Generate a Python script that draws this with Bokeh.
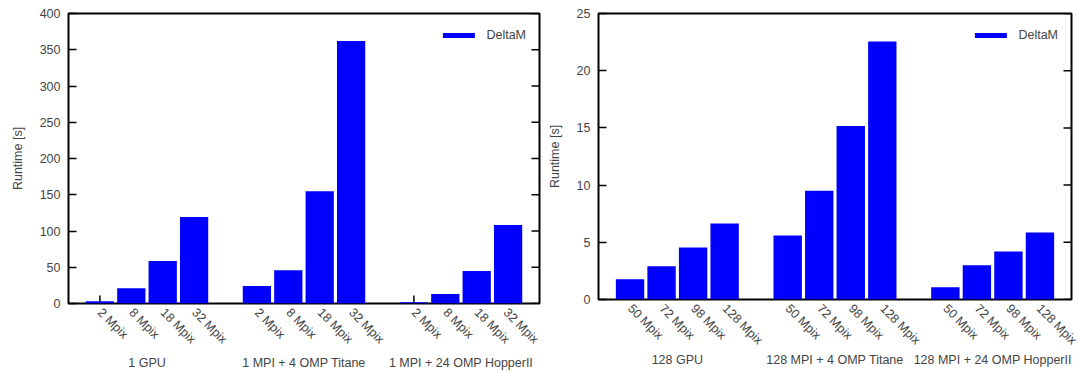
import math
from bokeh.plotting import figure
from bokeh.layouts import row
from bokeh.models import (Range1d, LinearAxis, FixedTicker, SingleIntervalTicker,
                          ColumnDataSource)
from bokeh.embed import file_html
from bokeh.resources import INLINE

# ---------------- data ----------------
configs_left = ["1 GPU", "1 MPI + 4 OMP Titane", "1 MPI + 24 OMP HopperII"]
sizes_left = ["2 Mpix", "8 Mpix", "18 Mpix", "32 Mpix"]
runtime_1gpu = [3.2, 21.2, 58.5, 119.4]
runtime_1titane = [24.0, 46.0, 155.0, 362.0]
runtime_1hopper = [1.8, 13.0, 44.7, 108.3]

configs_right = ["128 GPU", "128 MPI + 4 OMP Titane", "128 MPI + 24 OMP HopperII"]
sizes_right = ["50 Mpix", "72 Mpix", "98 Mpix", "128 Mpix"]
runtime_128gpu = [1.77, 2.9, 4.55, 6.64]
runtime_128titane = [5.6, 9.5, 15.16, 22.55]
runtime_128hopper = [1.07, 2.99, 4.2, 5.86]

series_name = "DeltaM"

FONT = "Liberation Sans"
FS = "12.5px"
BLUE = "#0000ff"


def panel(configs, sizes, series, ymax, ystep, bl, br, bt, bb, frame_w, frame_h,
          group_standoff):
    n = len(sizes)
    xs, tops, labels = [], [], []
    for g, vals in enumerate(series):
        for i, v in enumerate(vals):
            xs.append(g * (n + 1) + i)
            tops.append(v)
            labels.append(sizes[i])
    x_end = len(configs) * (n + 1) - 1
    p = figure(frame_width=frame_w, frame_height=frame_h,
               x_range=Range1d(-1, x_end), y_range=Range1d(0, ymax),
               x_axis_type=None, y_axis_type=None,
               output_backend="svg", toolbar_location=None,
               min_border_left=bl, min_border_right=br, min_border_top=bt,
               min_border_bottom=bb)
    p.outline_line_color = "black"
    p.outline_line_width = 2
    p.background_fill_color = "white"
    p.border_fill_color = "white"

    # inward x tick marks at every bar (drawn first, so bars cover them)
    p.scatter(x=xs, y=[0] * len(xs), marker="dash", size=16, angle=math.pi / 2,
              line_color="black", line_width=1.5)
    # mirrored inward y ticks on the right edge
    yt = list(range(0, ymax + 1, ystep))
    p.scatter(x=[x_end] * len(yt), y=yt, marker="dash", size=16,
              line_color="black", line_width=1.5)

    src = ColumnDataSource(dict(x=xs, top=tops))
    p.vbar(x="x", top="top", width=0.9, bottom=0, source=src,
           fill_color=BLUE, line_color=None, legend_label=series_name)

    # y axis (left) with labels, inward ticks
    yl = LinearAxis(ticker=SingleIntervalTicker(interval=ystep, num_minor_ticks=0),
                    axis_line_color=None, major_tick_in=8, major_tick_out=0,
                    major_tick_line_width=1.5, minor_tick_line_color=None,
                    major_label_text_font=FONT, major_label_text_font_size=FS,
                    major_label_standoff=8, axis_label="Runtime [s]",
                    axis_label_text_font=FONT, axis_label_text_font_size=FS,
                    axis_label_text_font_style="normal", axis_label_standoff=12)
    p.add_layout(yl, "left")

    # rotated size labels
    xb = LinearAxis(ticker=FixedTicker(ticks=xs, minor_ticks=[]),
                    axis_line_color=None, major_tick_line_color=None,
                    major_tick_in=0, major_tick_out=0,
                    minor_tick_line_color=None,
                    major_label_overrides={float(x): l for x, l in zip(xs, labels)},
                    major_label_orientation=-math.pi / 4,
                    major_label_text_font=FONT, major_label_text_font_size=FS,
                    major_label_standoff=7)
    p.add_layout(xb, "below")

    # group labels (one per configuration, centred under its bars)
    gx = [g * (n + 1) + (n - 1) / 2 for g in range(len(configs))]
    xc = LinearAxis(ticker=FixedTicker(ticks=gx, minor_ticks=[]),
                    axis_line_color=None, major_tick_line_color=None,
                    major_tick_in=0, major_tick_out=0,
                    minor_tick_line_color=None,
                    major_label_overrides={float(x): c for x, c in zip(gx, configs)},
                    major_label_text_font=FONT, major_label_text_font_size=FS,
                    major_label_standoff=group_standoff)
    p.add_layout(xc, "below")

    leg = p.legend[0]
    leg.location = "top_right"
    leg.margin = 0
    leg.padding = 13
    leg.glyph_width = 40
    leg.glyph_height = 6
    leg.label_height = 18
    leg.label_standoff = 8
    leg.border_line_alpha = 0
    leg.background_fill_alpha = 0
    leg.label_text_font = FONT
    leg.label_text_font_size = FS
    return p


p1 = panel(configs_left, sizes_left,
           [runtime_1gpu, runtime_1titane, runtime_1hopper],
           400, 50, bl=68, br=2, bt=13, bb=64, frame_w=471, frame_h=290,
           group_standoff=1)
p2 = panel(configs_right, sizes_right,
           [runtime_128gpu, runtime_128titane, runtime_128hopper],
           25, 5, bl=57, br=8, bt=12, bb=68, frame_w=473, frame_h=286,
           group_standoff=-3)

layout = row(p1, p2)
open("out.html", "w").write(file_html(layout, INLINE))
